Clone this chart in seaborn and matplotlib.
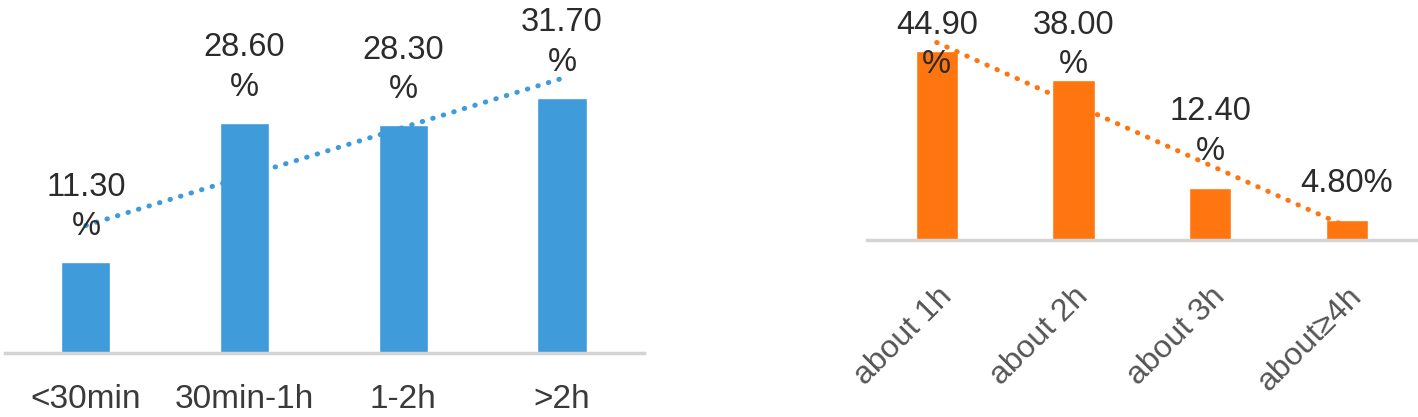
import numpy as np
import pandas as pd
import seaborn as sns
import matplotlib
matplotlib.use('Agg')
import matplotlib.pyplot as plt

sns.set_theme(style="white")
plt.rcParams['font.family'] = ['Liberation Sans', 'DejaVu Sans']

# colors
blue = '#409bda'
orange = '#ff7610'
axis_gray = '#d4d4d4'
text_dark = '#2b2b2b'
tick_dark = '#3a3a3a'
tick_gray = '#555555'

# data
left_categories = ['<30min', '30min-1h', '1-2h', '>2h']
left_values = [11.3, 28.6, 28.3, 31.7]
left_labels = ['11.30\n%', '28.60\n%', '28.30\n%', '31.70\n%']

right_categories = ['about 1h', 'about 2h', 'about 3h', 'about≥4h']
right_values = [44.9, 38.0, 12.4, 4.8]
right_labels = ['44.90\n%', '38.00\n%', '12.40\n%', '4.80%']

fig = plt.figure(figsize=(14.18, 4.17), dpi=100)
ax1 = fig.add_axes([0.0035, 0.1535, 0.451, 0.8465])
ax2 = fig.add_axes([0.6114, 0.4245, 0.3886, 0.5755])


def draw_panel(ax, cats, vals, labels, color, ymax, label_off, label_cap):
    df = pd.DataFrame({'cat': cats, 'val': vals})
    sns.barplot(data=df, x='cat', y='val', ax=ax, color=color, width=0.31,
                saturation=1, order=cats)
    # linear trendline (dotted) like the Excel one
    sns.regplot(x=np.arange(len(vals)), y=np.array(vals), ax=ax, scatter=False,
                ci=None, truncate=True,
                line_kws=dict(color=color, lw=3.6, linestyle=(0, (0.1, 2.1)),
                              dash_capstyle='round'))
    for i, (v, lab) in enumerate(zip(vals, labels)):
        y = min(v + label_off, label_cap)
        ax.text(i, y, lab, ha='center', va='bottom', fontsize=23.5,
                color=text_dark, linespacing=1.35)
    ax.set_xlim(-0.51, len(vals) - 0.48)
    ax.set_ylim(0, ymax)
    ax.set_xlabel('')
    ax.set_ylabel('')
    ax.set_yticks([])
    for s in ['left', 'right', 'top']:
        ax.spines[s].set_visible(False)
    ax.spines['bottom'].set_color(axis_gray)
    ax.spines['bottom'].set_linewidth(2.5)
    ax.patch.set_alpha(0)


draw_panel(ax1, left_categories, left_values, left_labels, blue, 43.85, 2.5, 100)
ax1.set_xticks(range(len(left_categories)))
ax1.set_xticklabels(left_categories, fontsize=24, color=tick_dark)
ax1.tick_params(axis='x', length=0, pad=22)

draw_panel(ax2, right_categories, right_values, right_labels, orange, 57, 5.0, 38.0)
ax2.set_xticks(range(len(right_categories)))
ax2.set_xticklabels(right_categories, fontsize=23, color=tick_gray, rotation=45,
                    ha='right', va='top', rotation_mode='anchor')
ax2.tick_params(axis='x', length=0, pad=30)

fig.savefig('out.png', dpi=100)
plt.close()
